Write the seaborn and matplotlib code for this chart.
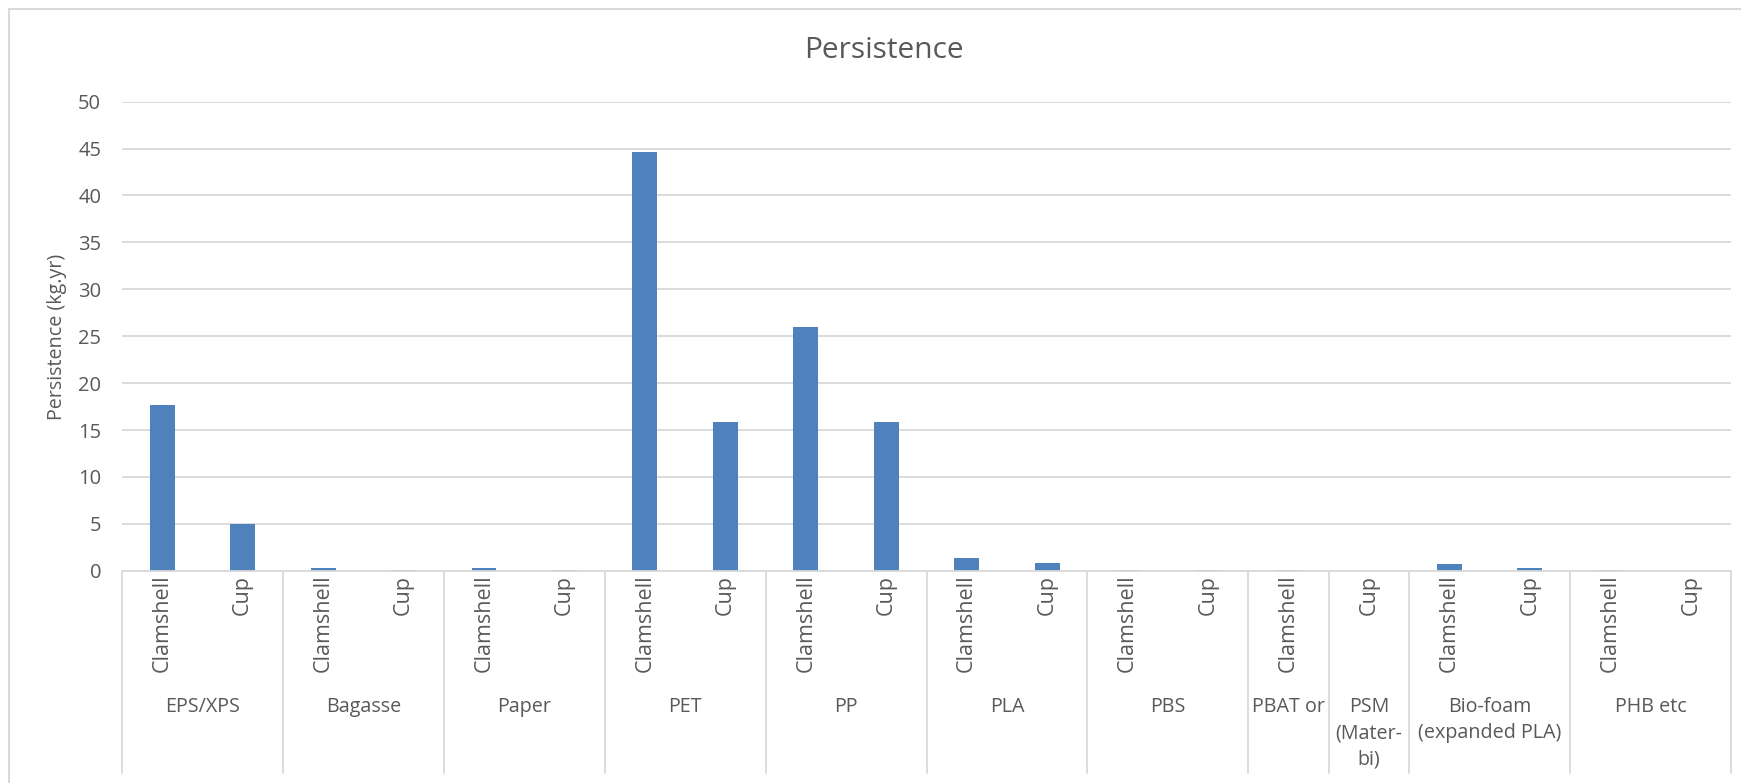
import matplotlib
matplotlib.use("Agg")
import matplotlib.pyplot as plt
import matplotlib.transforms as mtransforms
from matplotlib.lines import Line2D
import seaborn as sns
import pandas as pd

# Persistence (kg.yr) per packaging item, grouped by material
material = ["EPS/XPS", "EPS/XPS", "Bagasse", "Bagasse", "Paper", "Paper",
            "PET", "PET", "PP", "PP", "PLA", "PLA", "PBS", "PBS",
            "PBAT or", "PSM\n(Mater-\nbi)",
            "Bio-foam\n(expanded PLA)", "Bio-foam\n(expanded PLA)",
            "PHB etc", "PHB etc"]
product = ["Clamshell", "Cup", "Clamshell", "Cup", "Clamshell", "Cup",
           "Clamshell", "Cup", "Clamshell", "Cup", "Clamshell", "Cup",
           "Clamshell", "Cup", "Clamshell", "Cup", "Clamshell", "Cup",
           "Clamshell", "Cup"]
persistence = [17.7, 5.0, 0.3, 0.1, 0.3, 0.05,
               44.6, 15.9, 26.0, 15.9, 1.35, 0.82, 0.05, 0.03,
               0.05, 0.0, 0.7, 0.3, 0.03, 0.0]
y_ticks = [0, 5, 10, 15, 20, 25, 30, 35, 40, 45, 50]

TEXT = "#595959"
GRID = "#D9D9D9"
BAR = "#4F81BD"

sns.set_theme(style="white")
plt.rcParams["font.family"] = ["Open Sans", "DejaVu Sans"]

slots = [f"{i}:{m}:{p}" for i, (m, p) in enumerate(zip(material, product))]
df = pd.DataFrame({"slot": slots, "persistence": persistence})

W, H = 1741, 783
fig = plt.figure(figsize=(W / 100, H / 100), dpi=100)
fig.patch.set_facecolor("white")

x0, x1, y0, y1 = 122, 1731, 570.7, 101.7
ax = fig.add_axes([x0 / W, 1 - y0 / H, (x1 - x0) / W, (y0 - y1) / H])

sns.barplot(data=df, x="slot", y="persistence", order=slots, color=BAR,
            saturation=1, width=0.31, linewidth=0, ax=ax)

ax.set_xlim(-0.5, len(slots) - 0.5)
ax.set_ylim(0, 50)
ax.set_yticks(y_ticks)
ax.yaxis.grid(True, color=GRID, linewidth=1.3)
ax.set_axisbelow(True)
for side in ["top", "right", "left"]:
    ax.spines[side].set_visible(False)
ax.spines["bottom"].set_color(GRID)
ax.spines["bottom"].set_linewidth(1.3)

ax.set_xlabel("")
ax.set_ylabel("")
ax.set_xticks(range(len(slots)))
ax.set_xticklabels(product, rotation=90, fontsize=15.5, color=TEXT)
ax.tick_params(axis="x", length=0, pad=3)
ax.tick_params(axis="y", length=0, pad=15, labelsize=14.5, labelcolor=TEXT)

# Material group separators and labels under the item labels
trans = mtransforms.blended_transform_factory(ax.transData, ax.transAxes)
sep_depth = -(773 - y0) / (y0 - y1)
bounds = [-0.5]
for i in range(1, len(material)):
    if material[i] != material[i - 1]:
        bounds.append(i - 0.5)
bounds.append(len(material) - 0.5)
for b in bounds:
    ax.plot([b, b], [0, sep_depth], transform=trans, clip_on=False,
            color=GRID, linewidth=1.3)

label_top = -(697 - y0) / (y0 - y1)
for a, b in zip(bounds[:-1], bounds[1:]):
    idx = int(a + 0.5)
    ax.text((a + b) / 2, label_top, material[idx], transform=trans,
            ha="center", va="top", fontsize=14.2, color=TEXT,
            linespacing=1.4)

fig.text(884 / W, 1 - 50 / H, "Persistence", ha="center", va="center",
         fontsize=21.5, color=TEXT)
fig.text(57 / W, 1 - 337 / H, "Persistence (kg.yr)", rotation=90,
         ha="center", va="center", fontsize=14.2, color=TEXT)

# Chart frame (left and top edges)
fig.add_artist(Line2D([8.5 / W, 8.5 / W], [0, 1 - 8.5 / H], color=GRID,
                      linewidth=1.5))
fig.add_artist(Line2D([8.5 / W, 1], [1 - 8.5 / H, 1 - 8.5 / H], color=GRID,
                      linewidth=1.5))

fig.savefig("out.png", dpi=100, facecolor="white")
